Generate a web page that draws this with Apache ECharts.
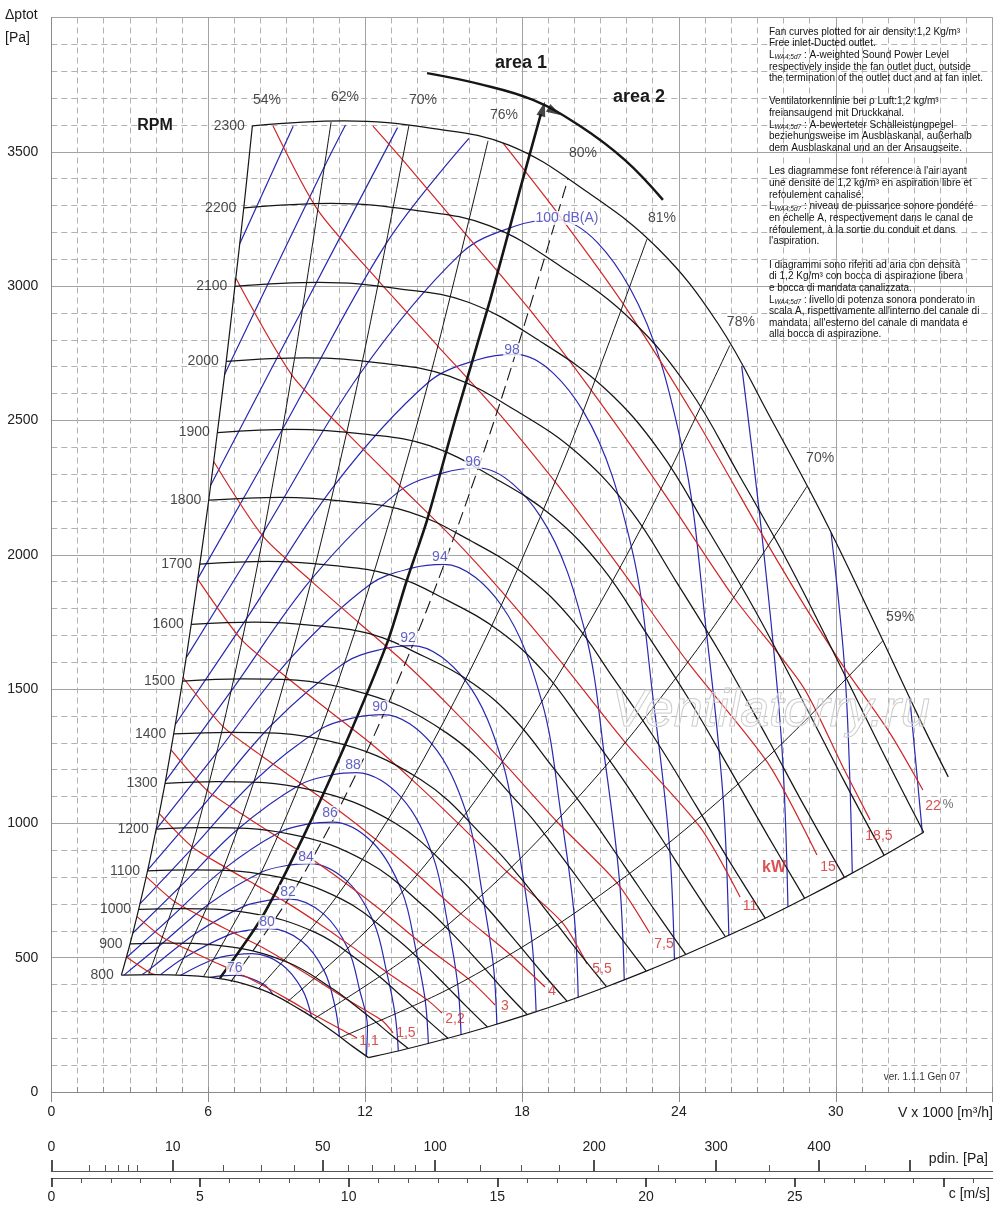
<!DOCTYPE html>
<html><head><meta charset="utf-8">
<script src="https://cdn.jsdelivr.net/npm/echarts@6/dist/echarts.min.js"></script>
<style>html,body{margin:0;padding:0;background:#fff}#c{width:1000px;height:1228px}</style>
</head><body><div id="c"></div>
<script>
// ---------- fan curves (V x1000 m3/h , dptot Pa), one array per speed ----------
const rpmValues = [800,900,1000,1100,1200,1300,1400,1500,1600,1700,1800,1900,2000,2100,2200,2300];
const rpm2300 = [[7.69,3597],[11.2,3615],[14.5,3588],[17.5,3525],[20.5,3350],[23.2,3140],[25.5,2860],[27.5,2510],[29.5,2145],[31.5,1742],[33.2,1390],[34.3,1173]];
const rpm2200 = [[7.36,3291],[10.71,3308],[13.87,3283],[16.74,3225],[19.61,3065],[22.19,2873],[24.39,2617],[26.30,2297],[28.22,1963],[30.13,1594],[31.76,1272],[33.36,967]];
const rpm2100 = [[7.02,2999],[10.23,3014],[13.24,2991],[15.98,2939],[18.72,2793],[21.18,2618],[23.28,2384],[25.11,2093],[26.94,1788],[28.76,1452],[30.31,1159],[31.85,881]];
const rpm2000 = [[6.69,2720],[9.74,2733],[12.61,2713],[15.22,2665],[17.83,2533],[20.17,2374],[22.17,2163],[23.91,1898],[25.65,1622],[27.39,1317],[28.87,1051],[30.33,799]];
const rpm1900 = [[6.35,2455],[9.25,2467],[11.98,2449],[14.46,2406],[16.94,2286],[19.17,2143],[21.07,1952],[22.72,1713],[24.37,1464],[26.02,1189],[27.43,949],[28.81,721]];
const rpm1800 = [[6.02,2203],[8.77,2214],[11.35,2198],[13.70,2159],[16.04,2052],[18.16,1923],[19.96,1752],[21.52,1537],[23.09,1314],[24.65,1067],[25.98,851],[27.30,647]];
const rpm1700 = [[5.68,1965],[8.28,1975],[10.72,1960],[12.94,1926],[15.15,1830],[17.15,1715],[18.85,1562],[20.33,1371],[21.80,1172],[23.28,952],[24.54,759],[25.78,578]];
const rpm1600 = [[5.35,1741],[7.79,1749],[10.09,1736],[12.17,1706],[14.26,1621],[16.14,1520],[17.74,1384],[19.13,1215],[20.52,1038],[21.91,843],[23.10,673],[24.26,512]];
const rpm1500 = [[5.02,1530],[7.30,1538],[11.41,1499],[15.13,1336],[17.94,1068],[19.24,912],[20.54,741],[21.65,591],[22.75,450]];
const rpm1400 = [[4.68,1333],[6.82,1339],[10.65,1306],[14.12,1163],[16.74,930],[17.96,795],[19.17,645],[20.21,515],[21.23,392]];
const rpm1300 = [[4.35,1149],[6.33,1155],[9.89,1126],[13.11,1003],[15.54,802],[16.67,685],[17.80,557],[18.77,444],[19.72,338]];
const rpm1200 = [[4.01,979],[5.84,984],[9.13,960],[12.10,855],[14.35,683],[15.39,584],[16.44,474],[17.32,378],[18.20,288]];
const rpm1100 = [[3.68,823],[5.36,827],[8.37,806],[11.10,718],[13.15,574],[14.11,491],[15.07,398],[15.88,318],[16.68,242]];
const rpm1000 = [[3.34,680],[4.87,683],[7.61,666],[10.09,594],[11.96,475],[12.83,406],[13.70,329],[14.44,263],[15.17,200]];
const rpm900  = [[3.01,551],[4.38,554],[6.85,540],[9.08,481],[10.76,384],[11.54,328],[12.33,267],[12.99,213],[13.65,162]];
const rpm800  = [[2.68,435],[3.90,437],[6.09,427],[8.07,380],[9.57,304],[10.26,260],[10.96,211],[11.55,168],[12.13,128]];

// ---------- efficiency lines ----------
const eff62  = [[3.72,437],[5.12,826],[6.51,1338],[7.91,1973],[9.30,2730],[10.70,3611]];
const eff70a = [[4.76,436],[6.54,823],[8.33,1334],[10.11,1967],[11.90,2722],[13.68,3600]];
const eff76  = [[5.81,428],[7.99,810],[10.17,1312],[12.34,1935],[14.52,2678],[16.70,3541]];
const eff80  = [[6.87,411],[9.45,778],[12.03,1260],[14.61,1858],[17.18,2571],[19.76,3400]];
const eff81  = [[7.92,384],[10.90,726],[13.87,1176],[16.84,1735],[19.81,2401],[22.78,3175]];
const eff78  = [[9.03,336],[12.41,636],[15.80,1030],[19.18,1519],[22.57,2102],[25.95,2780]];
const eff70b = [[10.05,273],[13.82,516],[17.59,836],[21.36,1232],[25.13,1705],[28.90,2255]];
const eff59  = [[11.06,203],[15.21,384],[19.36,623],[23.50,918],[27.65,1270],[31.80,1680]];
const effLabelText = ['54%','62%','70%','76%','80%','81%','78%','70%','59%'];
const effLabelAt = [[8.25,3693],[11.23,3704],[14.21,3693],[17.31,3637],[20.33,3495],[23.35,3253],[26.37,2866],[29.40,2360],[32.46,1768]];

// ---------- area boundary ----------
const areaBoundary = [[6.45,424],[8.06,651],[9.63,949],[11.15,1273],[12.84,1671],[13.60,1906],[14.37,2129],[15.44,2502],[16.78,2948],[17.92,3358],[18.72,3640]];
const areaArc = [[14.37,3793],[16.39,3752],[18.42,3693],[20.22,3596],[21.94,3469],[23.39,3321]];
const arrowHeads = [[18.80,3660,-16],[19.25,3650,-119]];

// ---------- absorbed power (kW) ----------
const kw0_75 = [[2.87,503],[3.76,445],[3.96,437]];
const kw1_1 = [[3.28,653],[4.27,575],[5.24,529],[6.19,486],[7.14,444],[8.06,398],[9.10,342],[10.19,280],[11.41,216],[11.69,201]];
const kw1_5 = [[3.63,802],[4.74,707],[5.81,650],[6.86,598],[7.92,546],[8.94,489],[10.09,420],[11.30,345],[12.65,266],[13.07,220]];
const kw2_2 = [[4.13,1036],[5.38,913],[6.61,839],[7.80,772],[9.00,705],[10.16,632],[11.47,543],[12.84,445],[14.38,343],[14.94,294]];
const kw3 = [[4.58,1274],[5.97,1122],[7.33,1032],[8.65,949],[9.97,866],[11.27,776],[12.72,668],[14.23,547],[15.94,422],[16.97,324]];
const kw4 = [[5.04,1543],[6.57,1360],[8.06,1250],[9.52,1150],[10.98,1049],[12.40,941],[14.00,809],[15.67,663],[17.55,512],[18.88,391]];
const kw5_5 = [[5.60,1909],[7.30,1681],[8.97,1546],[10.58,1422],[12.21,1298],[13.79,1163],[15.56,1000],[17.42,820],[19.52,633],[20.49,477]];
const kw7_5 = [[6.21,2347],[8.10,2068],[9.94,1902],[11.74,1749],[13.54,1596],[15.29,1430],[17.26,1230],[19.32,1008],[21.64,778],[22.89,591]];
const kw11 = [[7.06,3029],[9.20,2669],[11.30,2454],[13.33,2257],[15.38,2060],[17.37,1847],[19.61,1587],[21.95,1301],[24.81,986],[26.34,726]];
const kw15 = [[8.48,3596],[10.20,3282],[12.53,3018],[14.79,2776],[17.06,2533],[19.27,2271],[21.74,1952],[24.34,1600],[27.40,1225],[29.28,882]];
const kw18_5 = [[12.30,3596],[13.43,3471],[15.86,3192],[18.29,2913],[20.66,2611],[23.32,2245],[26.11,1840],[28.75,1508],[30.27,1210],[31.31,1013]];
const kw22 = [[17.27,3533],[19.38,3269],[21.89,2931],[24.64,2507],[27.75,1980],[30.05,1619],[32.07,1336],[33.33,1124]];
const kwLabelText = ['1,1','1,5','2,2','3','4','5,5','7,5','11','15','18,5','22'];
const kwLabelAt = [[12.15,190],[13.56,220],[15.44,272],[17.35,320],[19.15,376],[21.06,458],[23.43,551],[26.72,692],[29.70,838],[31.65,953],[33.72,1065]];

// ---------- sound power level contours dB(A) ----------
const db108 = [[7.21,3159],[9.25,3595]];
const db106a = [[6.63,2672],[10.46,3448],[11.25,3600]];
const db106b = [[32.83,1467],[33.31,964]];
const db104a = [[6.10,2260],[9.62,2917],[13.24,3590]];
const db104b = [[29.82,2081],[30.37,1532],[30.63,815]];
const db102a = [[5.61,1912],[8.84,2467],[12.81,3159],[15.97,3550]];
const db102b = [[26.40,2703],[27.25,2005],[27.93,1297],[28.17,690]];
const db100 = [[5.16,1617],[8.13,2086],[11.79,2672],[15.68,3123],[17.72,3223],[19.31,3247],[22.12,2994],[24.12,2401],[25.07,1696],[25.69,1096],[25.91,583]];
const db98 = [[4.74,1368],[7.48,1764],[10.84,2260],[14.42,2642],[16.30,2726],[17.76,2746],[20.35,2533],[22.18,2031],[23.05,1435],[23.63,927],[23.83,493]];
const db96 = [[4.36,1156],[6.88,1493],[9.97,1912],[13.27,2234],[14.99,2305],[16.33,2323],[18.71,2142],[20.40,1718],[21.20,1214],[21.73,784],[21.91,417]];
const db94 = [[4.01,978],[6.33,1263],[9.17,1617],[12.20,1890],[13.78,1950],[15.02,1964],[17.21,1812],[18.76,1453],[19.50,1027],[19.99,664],[20.15,353]];
const db92 = [[3.69,827],[5.82,1068],[8.43,1367],[11.22,1598],[12.68,1649],[13.81,1662],[15.83,1532],[17.25,1229],[17.93,868],[18.38,561],[18.54,298]];
const db90 = [[3.39,700],[5.35,903],[7.75,1157],[10.32,1352],[11.66,1395],[12.70,1405],[14.55,1296],[15.87,1040],[16.49,734],[16.90,475],[17.04,252]];
const db88 = [[3.12,592],[4.92,764],[7.13,978],[9.49,1143],[10.72,1180],[11.68,1189],[13.39,1096],[14.59,879],[15.17,621],[15.54,402],[15.67,213]];
const db86 = [[2.87,500],[4.53,646],[6.56,827],[8.73,967],[9.86,998],[10.75,1005],[12.31,927],[13.42,744],[13.95,525],[14.30,340],[14.42,180]];
const db84 = [[2.79,436],[4.16,546],[6.03,700],[8.03,818],[9.07,844],[9.88,850],[11.32,784],[12.34,629],[12.83,444],[13.15,287],[13.27,153]];
const db82 = [[3.48,437],[3.83,462],[5.55,592],[7.38,692],[8.34,714],[9.09,719],[10.41,663],[11.35,532],[11.80,376],[12.09,243],[12.05,134]];
const db80 = [[4.18,437],[5.10,501],[6.79,585],[7.67,604],[8.36,608],[9.58,561],[10.44,450],[10.85,318],[11.02,206]];
const db78 = [[4.93,434],[6.24,495],[7.06,511],[7.69,515],[8.81,475],[9.60,381],[9.95,280]];
const db76 = [[6.08,427],[6.49,432],[7.07,435],[8.10,402],[8.48,363]];
const dbLabelText = ['76','80','82','84','86','88','90','92','94','96','98','100 dB(A)'];
const dbLabelAt = [[7.02,462],[8.25,633],[9.05,745],[9.74,875],[10.66,1039],[11.54,1217],[12.57,1433],[13.64,1690],[14.86,1992],[16.13,2345],[17.62,2762],[19.72,3254]];

// ---------- bottom scales ----------
const pdinMajor = [0,10,50,100,200,300,400,500];
const pdinMinor = [1,2,3,4,5,20,30,40,60,70,80,90,125,150,175,250,350,450];
const pdinLabeled = [0,10,50,100,200,300,400];
const xTickLabels = [0,6,12,18,24,30];
const yTickLabels = [0,500,1000,1500,2000,2500,3000,3500];
const cMajor = [0,5,10,15,20,25,30];
const cMinor = [1,2,3,4,6,7,8,9,11,12,13,14,16,17,18,19,21,22,23,24,26,27,28,29,31];
const cTickLabels = [0,5,10,15,20,25];

// =====================================================================
const FONT = '"Liberation Sans", Arial, Helvetica, sans-serif';
const BLACK = '#161616', RED = '#d02525', BLUE = '#2828b0', BLUE_T = '#3a3ab8';
const pdinToC = p => Math.sqrt(p / 0.6);

function line(data, color, width, extra) {
  return Object.assign({
    type: 'line', data: data, xAxisIndex: 0, yAxisIndex: 0,
    symbol: 'none', showSymbol: false, smooth: 0.3, silent: true,
    lineStyle: { color: color, width: width }, z: 3
  }, extra || {});
}
function textMarks(names, pos, labelStyle, z) {
  return {
    type: 'scatter', xAxisIndex: 0, yAxisIndex: 0, silent: true, z: z || 10,
    symbolSize: 1, itemStyle: { color: 'rgba(0,0,0,0)' },
    data: names.map((n, i) => ({ name: n, value: pos[i] })),
    label: Object.assign({ show: true, position: 'inside', formatter: '{b}', fontFamily: FONT }, labelStyle)
  };
}

const rpmArrays = [rpm800, rpm900, rpm1000, rpm1100, rpm1200, rpm1300, rpm1400, rpm1500, rpm1600, rpm1700, rpm1800, rpm1900, rpm2000, rpm2100, rpm2200, rpm2300];
const series = [];

[db108, db106a, db106b, db104a, db104b, db102a, db102b, db100, db98, db96, db94, db92, db90, db88, db86, db84, db82, db80, db78, db76]
  .forEach(d => series.push(line(d, BLUE, 1.2, { smooth: 0.35, z: 2 })));

[kw0_75, kw1_1, kw1_5, kw2_2, kw3, kw4, kw5_5, kw7_5, kw11, kw15, kw18_5, kw22]
  .forEach(d => series.push(line(d, RED, 1.2, { smooth: 0.25, z: 3 })));

rpmArrays.forEach(d => series.push(line(d, BLACK, 1.25, { smooth: 0.4, z: 4 })));
series.push(line(rpmArrays.map(a => a[0]), BLACK, 1.2, { smooth: 0.3, z: 4 }));
series.push(line(rpmArrays.slice(0, 15).map(a => a[a.length - 1]), BLACK, 1.2, { smooth: 0.3, z: 4 }));

[eff62, eff70a, eff76, eff81, eff78, eff70b, eff59].forEach(d => series.push(line(d, BLACK, 1.0, { smooth: 0.3, z: 4 })));
series.push(line(eff80, BLACK, 1.1, { smooth: 0.3, z: 4, lineStyle: { color: BLACK, width: 1.1, type: [13, 6] } }));

series.push(line(areaBoundary, BLACK, 2.6, { smooth: 0.25, z: 5 }));
series.push(line(areaArc, BLACK, 2.4, { smooth: 0.4, z: 5 }));
series.push({
  type: 'scatter', xAxisIndex: 0, yAxisIndex: 0, silent: true, z: 6, symbol: 'triangle',
  data: arrowHeads.map(a => ({ value: [a[0], a[1]], symbolRotate: a[2] })),
  symbolSize: [9, 15], itemStyle: { color: BLACK }
});

series.push(textMarks(rpmValues.map(String), rpmArrays.map(a => a[0]),
  { position: 'left', distance: 7, fontSize: 14, color: '#1a1a1a' }));
series.push(textMarks(effLabelText, effLabelAt, { fontSize: 14, color: '#1a1a1a' }));
series.push(textMarks(dbLabelText, dbLabelAt, { fontSize: 14, color: BLUE_T, backgroundColor: '#fff', padding: [0, 1] }, 11));
series.push(textMarks(kwLabelText, kwLabelAt, { fontSize: 14, color: RED }));
series.push(textMarks(['kW'], [[27.64, 834]], { fontSize: 16, fontWeight: 'bold', color: RED }));
series.push(textMarks(['%'], [[34.29, 1068]], { fontSize: 12, color: '#444' }));

const notes = [
  'Fan curves plotted for air density:1,2 Kg/m³',
  'Free inlet-Ducted outlet.',
  'L{s|WA4;5d7} : A-weighted Sound Power Level',
  'respectively inside the fan outlet duct, outside',
  'the termination of the outlet duct and at fan inlet.',
  ' ',
  'Ventilatorkennlinie bei ρ Luft:1,2 kg/m³',
  'freiansaugend mit Druckkanal.',
  'L{s|WA4;5d7} : A-bewerteter Schalleistungpegel',
  'beziehungsweise im Ausblaskanal, außerhalb',
  'dem Ausblaskanal und an der Ansaugseite.',
  ' ',
  'Les diagrammese font réference à l\'air ayant',
  'une densité de 1,2 kg/m³ en aspiration libre et',
  'refoulement canalisé.',
  'L{s|WA4;5d7} : niveau de puissance sonore pondéré',
  'en échelle A, respectivement dans le canal de',
  'réfoulement, à la sortie du conduit et dans',
  'l\'aspiration.',
  ' ',
  'I diagrammi sono riferiti ad aria con densità',
  'di 1,2 Kg/m³ con bocca di aspirazione libera',
  'e bocca di mandata canalizzata.',
  'L{s|WA4;5d7} : livello di potenza sonora ponderato in',
  'scala A, rispettivamente all\'interno del canale di',
  'mandata, all\'esterno del canale di mandata e',
  'alla bocca di aspirazione.'
];

function gtext(x, y, text, style) {
  return { type: 'text', x: x, y: y, silent: true, z: 20,
    style: Object.assign({ text: text, fontFamily: FONT, fontSize: 14, fill: '#1a1a1a', verticalAlign: 'middle' }, style) };
}
const hiddenAxisBase = { splitLine: { show: false }, axisLabel: { show: false } };

const option = {
  animation: false,
  backgroundColor: '#fff',
  textStyle: { fontFamily: FONT },
  grid: [
    { left: 51.3, top: 17.5, width: 941.4, height: 1074.5 },
    { left: 51.3, top: 1100, width: 941.4, height: 71 },
    { left: 51.3, top: 1120, width: 941.4, height: 58 }
  ],
  xAxis: [
    { type: 'value', gridIndex: 0, min: 0, max: 36, interval: 6,
      axisLine: { show: true, lineStyle: { color: '#8a8a8a' } },
      axisTick: { show: true, length: 10, lineStyle: { color: '#8a8a8a' } },
      minorTick: { show: false, splitNumber: 6 },
      axisLabel: { fontSize: 14, color: '#222', margin: 13, formatter: v => xTickLabels.indexOf(v) >= 0 ? String(v) : '' },
      splitLine: { show: true, lineStyle: { color: '#a2a2a2', width: 1 } },
      minorSplitLine: { show: true, lineStyle: { color: '#b2b2b2', width: 1, type: [6, 4] } } },
    Object.assign({ type: 'value', gridIndex: 0, min: 0, max: 36, interval: 1, position: 'bottom',
      axisLine: { show: false },
      axisTick: { show: true, inside: true, length: 5, lineStyle: { color: '#8a8a8a' } } }, hiddenAxisBase),
    { type: 'value', gridIndex: 1, min: 0, max: 31.66, position: 'bottom',
      axisLine: { show: true, lineStyle: { color: '#555', width: 1 } },
      axisTick: { show: true, inside: true, length: 11, customValues: pdinMajor.map(pdinToC), lineStyle: { color: '#222', width: 1.6 } },
      axisLabel: { show: true, inside: true, margin: 17, fontSize: 14, color: '#222', customValues: pdinLabeled.map(pdinToC),
        formatter: v => String(Math.round(0.6 * v * v)) },
      splitLine: { show: false } },
    Object.assign({ type: 'value', gridIndex: 1, min: 0, max: 31.66, position: 'bottom',
      axisLine: { show: false },
      axisTick: { show: true, inside: true, length: 6, customValues: pdinMinor.map(pdinToC), lineStyle: { color: '#555', width: 1 } } }, hiddenAxisBase),
    { type: 'value', gridIndex: 2, min: 0, max: 31.66, position: 'bottom',
      axisLine: { show: true, lineStyle: { color: '#555', width: 1 } },
      axisTick: { show: true, length: 9, customValues: cMajor, lineStyle: { color: '#222', width: 1.6 } },
      axisLabel: { fontSize: 14, color: '#222', margin: 12, customValues: cTickLabels },
      splitLine: { show: false } },
    Object.assign({ type: 'value', gridIndex: 2, min: 0, max: 31.66, position: 'bottom',
      axisLine: { show: false },
      axisTick: { show: true, length: 5, customValues: cMinor, lineStyle: { color: '#555', width: 1 } } }, hiddenAxisBase)
  ],
  yAxis: [
    { type: 'value', gridIndex: 0, min: 0, max: 4000, interval: 500,
      axisLine: { show: true, lineStyle: { color: '#8a8a8a' } },
      axisTick: { show: false },
      minorTick: { show: false, splitNumber: 5 },
      axisLabel: { fontSize: 14, color: '#222', margin: 13, formatter: v => yTickLabels.indexOf(v) >= 0 ? String(v) : '' },
      splitLine: { show: true, lineStyle: { color: '#a2a2a2', width: 1 } },
      minorSplitLine: { show: true, lineStyle: { color: '#b2b2b2', width: 1, type: [6, 4] } } },
    { type: 'value', gridIndex: 1, show: false },
    { type: 'value', gridIndex: 2, show: false }
  ],
  series: series,
  graphic: [
    gtext(5, 15, 'Δptot', {}),
    gtext(5, 38, '[Pa]', {}),
    gtext(155, 126, 'RPM', { fontSize: 16, fontWeight: 'bold', align: 'center' }),
    gtext(521, 63, 'area 1', { fontSize: 18, fontWeight: 'bold', align: 'center' }),
    gtext(639, 97, 'area 2', { fontSize: 18, fontWeight: 'bold', align: 'center' }),
    gtext(922, 1077, 'ver. 1.1.1 Gen 07', { fontSize: 10, align: 'center', fill: '#333' }),
    gtext(993, 1113, 'V x 1000 [m³/h]', { align: 'right' }),
    gtext(988, 1159, 'pdin. [Pa]', { align: 'right' }),
    gtext(990, 1194, 'c [m/s]', { align: 'right' }),
    { type: 'text', x: 769, y: 26, silent: true, z: 20,
      style: { text: notes.join('\n'), fontFamily: FONT, fontSize: 10, lineHeight: 11.65, fill: '#111', verticalAlign: 'top',
        rich: { s: { fontSize: 6.5, fontStyle: 'italic', fontFamily: FONT, fill: '#111', lineHeight: 11.65, verticalAlign: 'bottom' } } } },
    { type: 'text', x: 771, y: 712, silent: true, z: 30,
      style: { text: 'Ventilatorry.ru', fontFamily: FONT, fontSize: 52, fontStyle: 'italic', fill: 'rgba(255,255,255,0.25)',
        stroke: '#c6c6c6', lineWidth: 1, align: 'center', verticalAlign: 'middle' } }
  ]
};

const chart = echarts.init(document.getElementById('c'), null, { renderer: 'canvas' });
chart.setOption(option);
</script>
</body></html>
